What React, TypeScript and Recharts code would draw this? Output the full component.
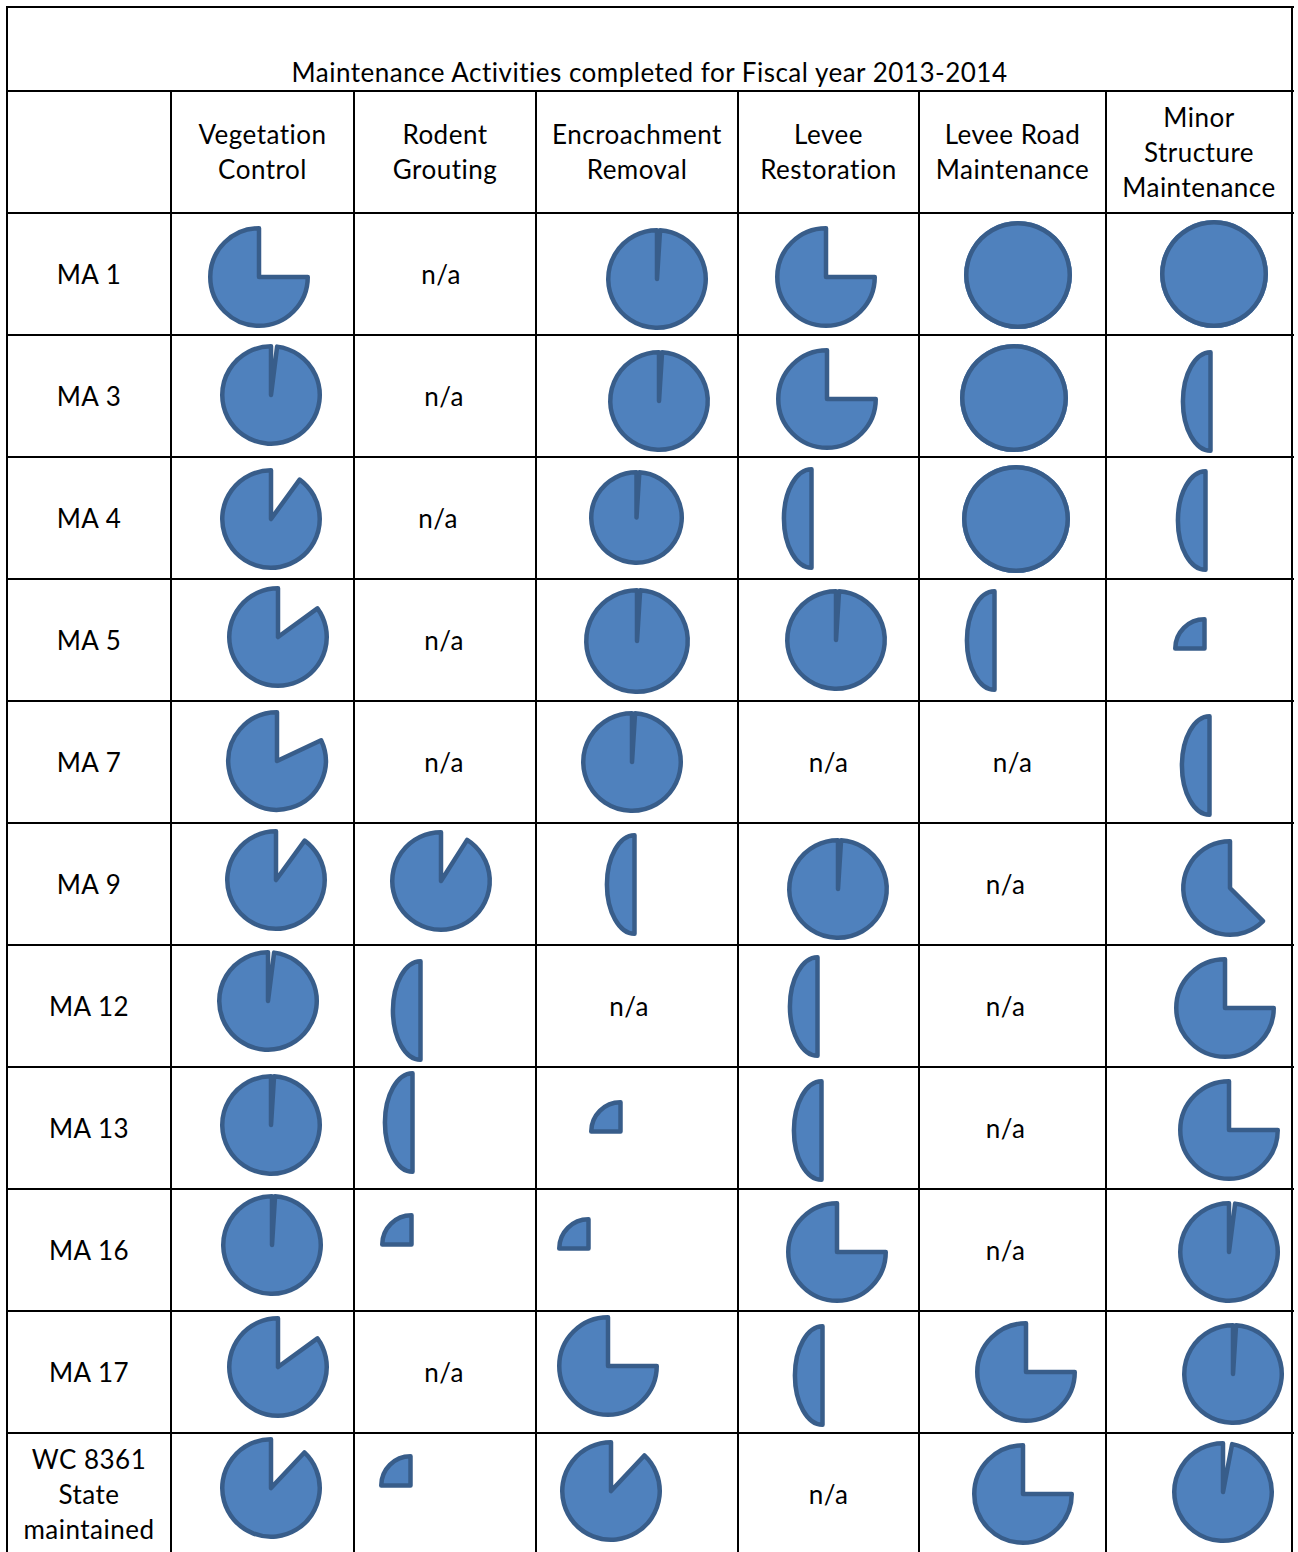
import { PieChart, Pie } from "recharts"

const title = "Maintenance Activities completed for Fiscal year 2013-2014"

const activities = [
  "Vegetation\nControl",
  "Rodent\nGrouting",
  "Encroachment\nRemoval",
  "Levee\nRestoration",
  "Levee Road\nMaintenance",
  "Minor\nStructure\nMaintenance",
]

const areas = [
  "MA 1",
  "MA 3",
  "MA 4",
  "MA 5",
  "MA 7",
  "MA 9",
  "MA 12",
  "MA 13",
  "MA 16",
  "MA 17",
  "WC 8361\nState\nmaintained",
]

// share of the ball that is filled (% done), null = n/a
// 50 is drawn as the narrow half ball, 25 as the small quarter
const vegetationControl = [75, 98, 90, 85, 82, 90, 98, 99, 99, 85, 88]
const rodentGrouting = [null, null, null, null, null, 91, 50, 50, 25, null, 25]
const encroachmentRemoval = [99, 99, 99, 99, 99, 50, null, 25, 25, 75, 88]
const leveeRestoration = [75, 75, 50, 99, null, 99, 50, 50, 75, 50, null]
const leveeRoadMaintenance = [100, 100, 100, 50, null, null, null, null, null, 75, 75]
const minorStructureMaintenance = [100, 50, 50, 25, 50, 62.5, 75, 75, 98, 99, 97]

const completion = [
  vegetationControl,
  rodentGrouting,
  encroachmentRemoval,
  leveeRestoration,
  leveeRoadMaintenance,
  minorStructureMaintenance,
]

// ---- layout ----
const colEdges = [7, 171, 354, 536, 738, 919, 1106, 1292]
const rowEdges = [7, 91, 213, 335, 457, 579, 701, 823, 945, 1067, 1189, 1311, 1433, 1555]

// how far each ball / n/a sits from its cell centre
const nudges: [number, number][][] = [
  [[-4, 3], [8, -1], [8, 1], [15, -3], [14, -1], [13, -4], [5, -5], [8, -3], [9, -5], [15, -5], [8, -6]],
  [[-4, 0], [-1, 0], [-7, 0], [-1, 0], [-1, 0], [-4, -3], [-25, 4], [-33, -6], [-34, -6], [-1, 0], [-35, -9]],
  [[20, 5], [22, 5], [-1, -1], [0, 1], [-5, 0], [-3, 0], [-8, 0], [-17, 3], [-49, -2], [-29, -6], [-26, -3]],
  [[-3, 3], [-2, 3], [-17, 0], [7, 0], [0, 0], [9, 5], [-11, 0], [-7, 2], [8, 2], [-6, 3], [0, 0]],
  [[5, 1], [1, 2], [3, 1], [-18, 0], [0, 0], [-7, 0], [-7, 0], [-7, 0], [-7, 0], [13, 0], [10, 0]],
  [[15, 0], [11, 5], [6, 2], [5, 8], [10, 3], [31, 4], [26, 2], [30, 2], [30, 2], [34, 2], [24, -2]],
]

const radiusOverride: Record<string, number> = { "2-2": 47.5, "2-3": 53, "5-5": 49 }

const FILL = "#4F81BD"
const LINE = "#385D8A"
const SW = 4.5
const FONT = "Lato, 'Open Sans', sans-serif"

function Ball({ value, x, y, r }: { value: number; x: number; y: number; r: number }) {
  const half = value === 50
  const quarter = value === 25
  const outer = quarter ? 31.5 : half ? 51.5 : r
  const size = Math.ceil(outer * 2 + 12)
  const data = [{ name: "done", value }]
  const box: React.CSSProperties = {
    position: "absolute",
    left: x - size / 2,
    top: y - size / 2,
    width: size,
    height: size,
  }
  const margin = { top: 0, right: 0, bottom: 0, left: 0 }

  if (value >= 100) {
    return (
      <div style={box}>
        <PieChart width={size} height={size} margin={margin}>
          <Pie
            data={data}
            dataKey="value"
            startAngle={90}
            endAngle={450}
            outerRadius={outer}
            fill={FILL}
            stroke="none"
            isAnimationActive={false}
          />
          <Pie
            data={data}
            dataKey="value"
            startAngle={90}
            endAngle={450}
            innerRadius={outer - SW}
            outerRadius={outer}
            fill={LINE}
            stroke="none"
            isAnimationActive={false}
          />
        </PieChart>
      </div>
    )
  }

  return (
    <div style={box} className={half ? "ball squash" : "ball"}>
      <PieChart width={size} height={size} margin={margin}>
        <Pie
          data={data}
          dataKey="value"
          startAngle={90}
          endAngle={half ? 270 : 90 + 3.6 * value}
          outerRadius={outer - SW / 2}
          fill={FILL}
          stroke={LINE}
          strokeWidth={SW}
          strokeLinejoin="round"
          isAnimationActive={false}
        />
      </PieChart>
    </div>
  )
}

function Label({ text, x0, x1, cy, dx = 0 }: { text: string; x0: number; x1: number; cy: number; dx?: number }) {
  return (
    <div
      style={{
        position: "absolute",
        left: x0 + dx,
        width: x1 - x0,
        top: cy,
        transform: "translateY(-50%)",
        textAlign: "center",
        whiteSpace: "pre-line",
        lineHeight: "35px",
        fontSize: 26,
        letterSpacing: 0.5,
      }}
    >
      {text}
    </div>
  )
}

export default function App() {
  const lines: React.ReactNode[] = []
  // horizontal rules
  rowEdges.slice(0, -1).forEach((y, i) =>
    lines.push(
      <div key={"h" + i} style={{ position: "absolute", left: 6, top: y - 1, width: 1288, height: 2, background: "#000" }} />
    )
  )
  // vertical rules
  colEdges.forEach((x, i) => {
    const outer = i === 0 || i === colEdges.length - 1
    const top = outer ? 6 : 91
    lines.push(
      <div key={"v" + i} style={{ position: "absolute", left: x - 1, top, width: 2, height: 1560 - top, background: "#000" }} />
    )
  })

  const cells: React.ReactNode[] = []
  completion.forEach((col, c) => {
    const x0 = colEdges[c + 1]
    const x1 = colEdges[c + 2]
    const cx = (x0 + x1) / 2
    col.forEach((v, r) => {
      const cy = (rowEdges[r + 2] + rowEdges[r + 3]) / 2
      const [dx, dy] = nudges[c][r]
      if (v === null) {
        cells.push(<Label key={`${c}-${r}`} text="n/a" x0={x0} x1={x1} cy={cy + dy} dx={dx} />)
      } else {
        const rad = radiusOverride[`${c}-${r}`] ?? (v >= 100 ? 54 : 51)
        cells.push(<Ball key={`${c}-${r}`} value={v} x={cx + dx} y={cy + dy} r={rad} />)
      }
    })
  })

  return (
    <div
      style={{
        position: "relative",
        width: 1298,
        height: 1552,
        overflow: "hidden",
        background: "#fff",
        fontFamily: FONT,
        color: "#000",
      }}
    >
      <style>{`
        body { margin: 0; }
        .ball path { stroke-linejoin: round; }
        .squash path.recharts-sector {
          transform: scaleX(0.56);
          transform-box: view-box;
          transform-origin: 50% 50%;
          vector-effect: non-scaling-stroke;
        }
      `}</style>
      {lines}
      <Label text={title} x0={7} x1={1292} cy={72} />
      {activities.map((a, i) => (
        <Label key={a} text={a} x0={colEdges[i + 1]} x1={colEdges[i + 2]} cy={152} />
      ))}
      {areas.map((a, i) => (
        <Label key={a} text={a} x0={colEdges[0]} x1={colEdges[1]} cy={(rowEdges[i + 2] + rowEdges[i + 3]) / 2} />
      ))}
      {cells}
    </div>
  )
}
